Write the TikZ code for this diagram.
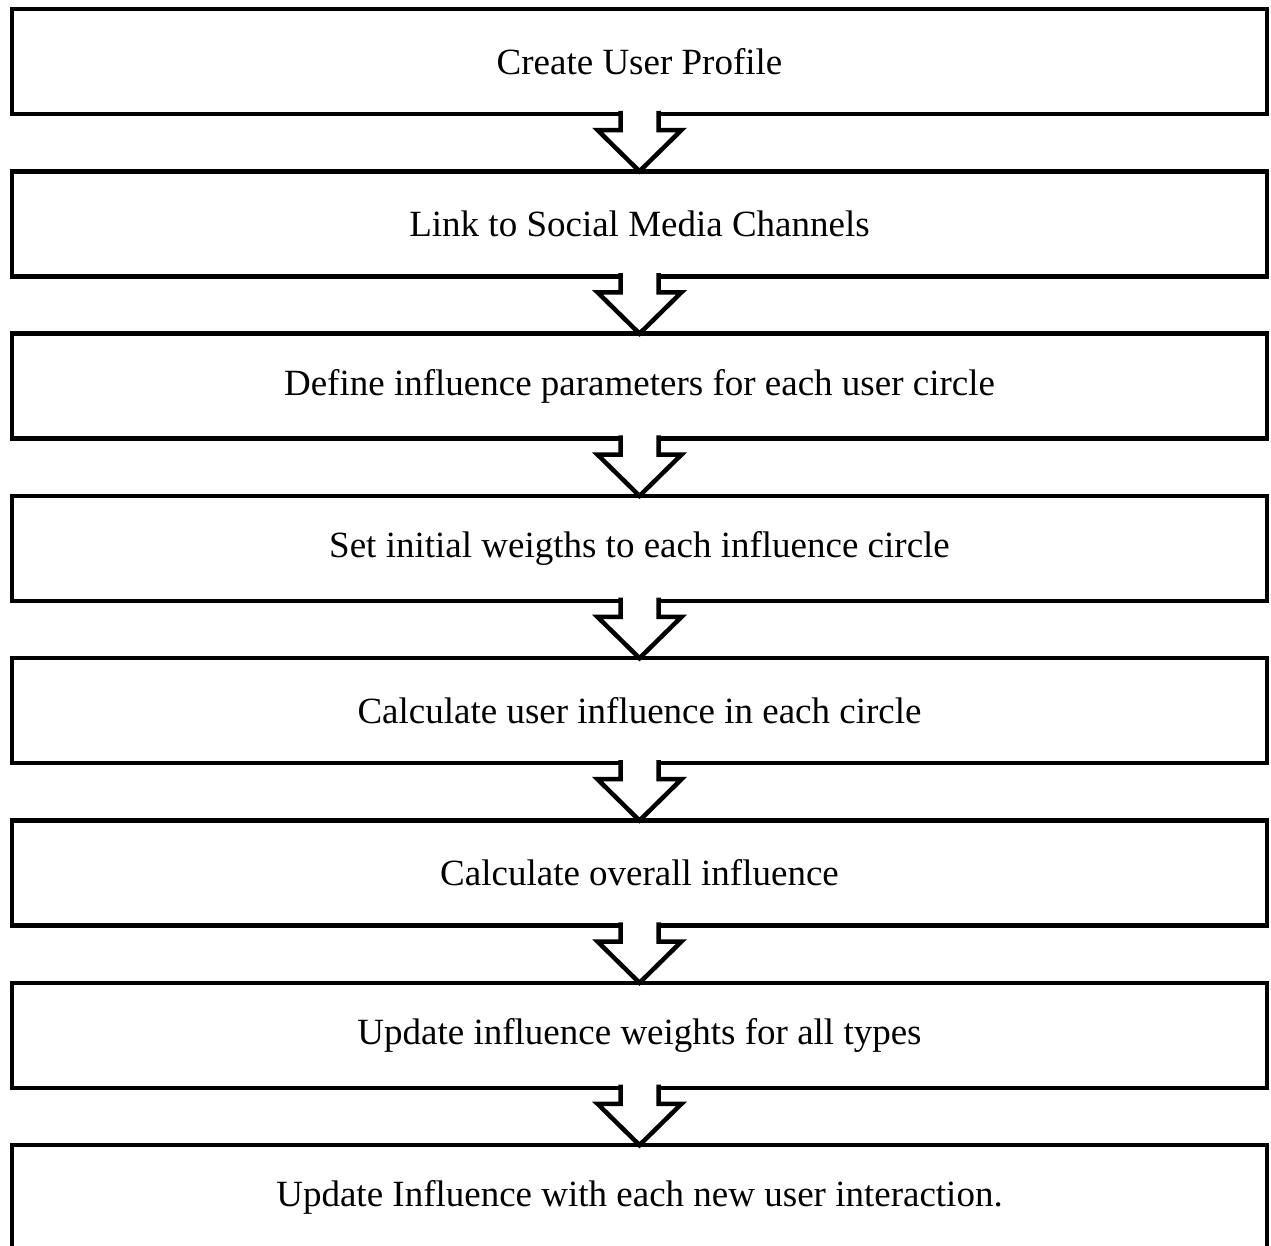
\documentclass[tikz,border=0pt]{standalone}
\usepackage{fontspec}
\setmainfont{Liberation Serif}
\usetikzlibrary{calc}
\begin{document}
\begin{tikzpicture}[x=1pt,y=-1pt,
  stepbox/.style={draw=black,line width=4.5pt,fill=white,minimum width=1255pt,minimum height=105pt,outer sep=0pt,inner sep=0pt,font=\fontsize{37}{44}\selectfont},
  blockarrow/.style={draw=black,line width=4.5pt,fill=white,line join=miter}]
\useasboundingbox (0,0) rectangle (1271,1245);
\node[stepbox] (b1) at (639.5,61.5) {Create User Profile};
\node[stepbox] (b2) at (639.5,223.8) {Link to Social Media Channels};
\node[stepbox] (b3) at (639.5,386.1) {Define influence parameters for each user circle};
\node[stepbox] (b4) at (639.5,548.4) {Set initial weigths to each influence circle};
\node[stepbox] (b5) at (639.5,710.7) {Calculate user influence in each circle};
\node[stepbox] (b6) at (639.5,873.0) {Calculate overall influence};
\node[stepbox] (b7) at (639.5,1035.3) {Update influence weights for all types};
\node[stepbox] (b8) at (639.5,1197.6) {Update Influence with each new user interaction.};
\foreach \a/\b in {b1/b2,b2/b3,b3/b4,b4/b5,b5/b6,b6/b7,b7/b8}{
  \draw[blockarrow] ($(\a.south)+(-19,-3.2)$) -- ($(\a.south)+(-19,16)$) -- ($(\a.south)+(-42,16)$)
    -- (\b.north) -- ($(\a.south)+(42,16)$) -- ($(\a.south)+(19,16)$) -- ($(\a.south)+(19,-3.2)$);
}
\end{tikzpicture}
\end{document}
